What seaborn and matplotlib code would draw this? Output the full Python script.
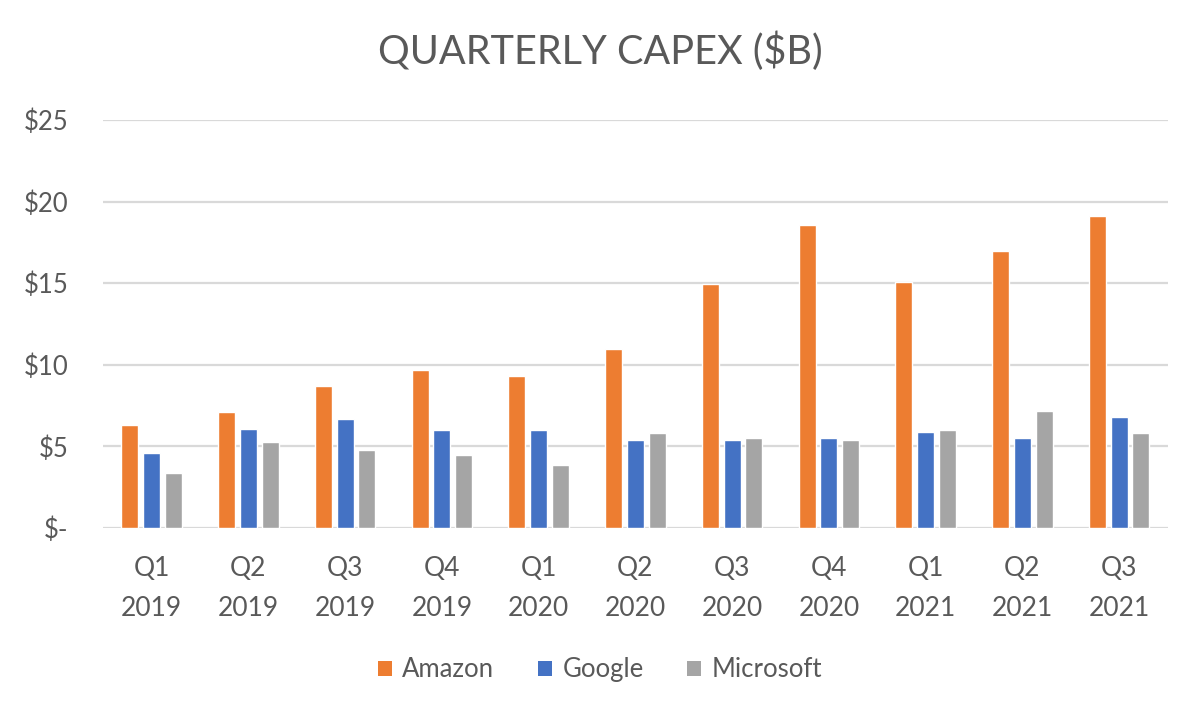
import numpy as np
import pandas as pd
import matplotlib
matplotlib.use("Agg")
import matplotlib.pyplot as plt
import seaborn as sns
from matplotlib.patches import Patch

quarters = ["Q1\n2019", "Q2\n2019", "Q3\n2019", "Q4\n2019", "Q1\n2020", "Q2\n2020",
            "Q3\n2020", "Q4\n2020", "Q1\n2021", "Q2\n2021", "Q3\n2021"]
amazon = [6.3, 7.1, 8.7, 9.7, 9.3, 11.0, 14.95, 18.55, 15.05, 17.0, 19.15]
google = [4.6, 6.1, 6.7, 6.0, 6.0, 5.4, 5.4, 5.5, 5.9, 5.5, 6.8]
microsoft = [3.35, 5.3, 4.8, 4.5, 3.85, 5.8, 5.5, 5.4, 6.0, 7.2, 5.8]
companies = ["Amazon", "Google", "Microsoft"]
colors = ["#ED7D31", "#4472C4", "#A5A5A5"]
yticks = [0, 5, 10, 15, 20, 25]
ytick_labels = ["$-", "$5", "$10", "$15", "$20", "$25"]

df = pd.DataFrame({
    "Quarter": quarters * 3,
    "Company": [c for c in companies for _ in quarters],
    "Capex": amazon + google + microsoft,
})

sns.set_theme(style="white")
plt.rcParams["font.family"] = ["Lato", "DejaVu Sans"]
text_color = "#595959"

fig = plt.figure(figsize=(12, 7.06), dpi=100)
ax = fig.add_axes([0.086, 0.252, 0.887, 0.578])

sns.barplot(data=df, x="Quarter", y="Capex", hue="Company", order=quarters,
            hue_order=companies, palette=colors, width=0.675, gap=0.22,
            saturation=1, ax=ax, legend=False)

ax.set_ylim(0, 25)
ax.set_xlim(-0.5, len(quarters) - 0.5)
ax.set_yticks(yticks)
ax.set_yticklabels(ytick_labels)
ax.yaxis.grid(True, color="#D9D9D9", linewidth=1.6)
ax.set_axisbelow(True)
for s in ax.spines.values():
    s.set_visible(False)
ax.tick_params(axis="y", length=0, pad=25, labelsize=18.5, labelcolor=text_color)
ax.tick_params(axis="x", length=0, pad=20, labelsize=19, labelcolor=text_color)
for lbl in ax.get_xticklabels():
    lbl.set_linespacing(1.75)
ax.set_xlabel("")
ax.set_ylabel("")

fig.suptitle("QUARTERLY CAPEX ($B)", x=0.5, y=0.955, fontsize=28.5,
             color=text_color, fontweight="normal")

handles = [Patch(facecolor=c, edgecolor="none") for c in colors]
fig.legend(handles, companies, loc="center", bbox_to_anchor=(0.5, 0.051),
           ncol=3, frameon=False, fontsize=18.5, labelcolor=text_color,
           handlelength=0.55, handleheight=0.55, handletextpad=0.4,
           columnspacing=1.7)

fig.savefig("out.png", dpi=100, facecolor="white")
